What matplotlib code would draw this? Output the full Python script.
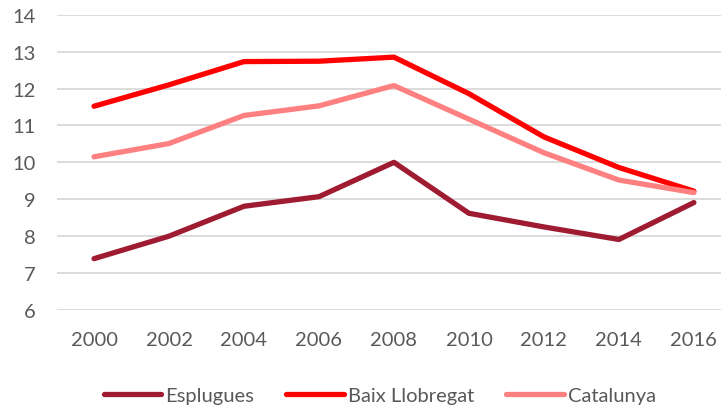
import matplotlib
matplotlib.use('Agg')
from matplotlib import pyplot as plt

# Donnees
years = [2000, 2002, 2004, 2006, 2008, 2010, 2012, 2014, 2016]
esplugues = [7.39, 8.0, 8.81, 9.07, 10.0, 8.62, 8.25, 7.91, 8.91]
baix_llobregat = [11.52, 12.10, 12.73, 12.74, 12.85, 11.86, 10.69, 9.86, 9.22]
catalunya = [10.15, 10.51, 11.27, 11.53, 12.08, 11.17, 10.26, 9.52, 9.18]
yticks = [6, 7, 8, 9, 10, 11, 12, 13, 14]

plt.rcParams['font.family'] = ['Lato', 'DejaVu Sans']
grey = '#595959'

fig = plt.figure(figsize=(7.21, 4.10), dpi=100)
ax = fig.add_axes([0.0784, 0.2415, 0.936, 0.7202])

ax.plot(years, esplugues, color='#9E1B32', lw=3.8, label='Esplugues', solid_capstyle='round')
ax.plot(years, baix_llobregat, color='#FF0000', lw=3.8, label='Baix Llobregat', solid_capstyle='round')
ax.plot(years, catalunya, color='#FF8080', lw=3.8, label='Catalunya', solid_capstyle='round')

ax.set_xlim(1999, 2017)
ax.set_ylim(6, 14)
ax.set_yticks(yticks)
ax.set_xticks(years)
ax.grid(axis='y', color='#D9D9D9', lw=1.3)
ax.set_axisbelow(True)
for s in ax.spines.values():
    s.set_visible(False)
ax.tick_params(length=0, labelsize=14.5, labelcolor=grey)
ax.tick_params(axis='x', pad=15)
ax.tick_params(axis='y', pad=15)

ax.legend(loc='center', bbox_to_anchor=(0.479, -0.288), ncol=3, frameon=False,
          fontsize=14.5, labelcolor=grey, handlelength=2.85, handletextpad=0.2,
          columnspacing=1.6)

plt.savefig('out.png', dpi=100)
